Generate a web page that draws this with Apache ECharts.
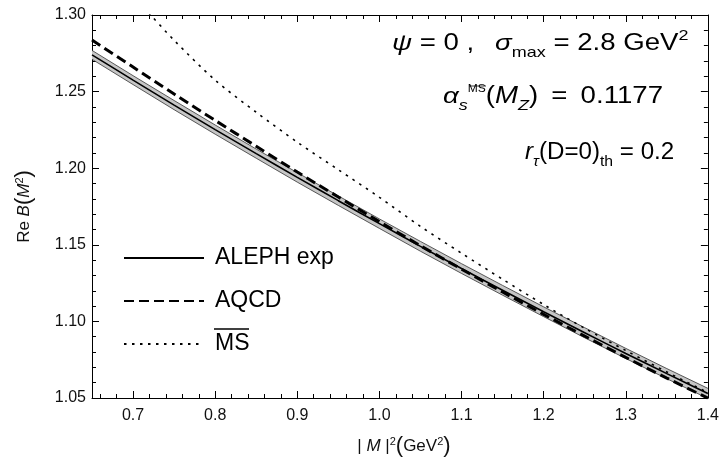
<!DOCTYPE html>
<html>
<head>
<meta charset="utf-8">
<script src="https://cdn.jsdelivr.net/npm/echarts@6/dist/echarts.min.js"></script>
<style>
  html, body { margin: 0; padding: 0; background: #fff; }
  #chart { width: 722px; height: 465px; }
</style>
</head>
<body>
<div id="chart"></div>
<script>
// values, x in GeV^2
const xs = [0.65, 0.70, 0.75, 0.80, 0.85, 0.90, 0.95, 1.00, 1.05, 1.10, 1.15, 1.20, 1.25, 1.30, 1.35, 1.40]
const alephExp = [1.2740, 1.2575, 1.2412, 1.2252, 1.2095, 1.1940, 1.1788, 1.1638, 1.1490, 1.1345, 1.1203, 1.1063, 1.0926, 1.0791, 1.0659, 1.0530]
const alephHigh = [1.2769, 1.2604, 1.2442, 1.2282, 1.2125, 1.1971, 1.1819, 1.1669, 1.1522, 1.1377, 1.1235, 1.1095, 1.0959, 1.0824, 1.0692, 1.0563]
const alephLow = [1.2711, 1.2546, 1.2382, 1.2222, 1.2065, 1.1909, 1.1757, 1.1607, 1.1458, 1.1313, 1.1171, 1.1031, 1.0893, 1.0758, 1.0626, 1.0497]
const aqcd = [1.2837, 1.2660, 1.2484, 1.2312, 1.2143, 1.1975, 1.1812, 1.1651, 1.1494, 1.1341, 1.1192, 1.1046, 1.0904, 1.0765, 1.0630, 1.0499]
const msX = [0.70, 0.72, 0.75, 0.80, 0.85, 0.90, 0.95, 1.00, 1.05, 1.10, 1.15, 1.20, 1.25, 1.30, 1.35, 1.40]
const msBar = [1.3132, 1.3009, 1.2835, 1.2575, 1.2365, 1.2170, 1.1990, 1.1810, 1.1620, 1.1445, 1.1275, 1.1110, 1.0955, 1.0810, 1.0670, 1.0535]

const legendNames = ['ALEPH exp', 'AQCD', 'MS']

const xMajor = [0.7, 0.8, 0.9, 1.0, 1.1, 1.2, 1.3, 1.4]
const xMinor = [0.66, 0.68, 0.72, 0.74, 0.76, 0.78, 0.82, 0.84, 0.86, 0.88, 0.92, 0.94, 0.96, 0.98,
  1.02, 1.04, 1.06, 1.08, 1.12, 1.14, 1.16, 1.18, 1.22, 1.24, 1.26, 1.28, 1.32, 1.34, 1.36, 1.38]
const yMajor = [1.05, 1.10, 1.15, 1.20, 1.25, 1.30]
const yMinor = [1.06, 1.07, 1.08, 1.09, 1.11, 1.12, 1.13, 1.14, 1.16, 1.17, 1.18, 1.19,
  1.21, 1.22, 1.23, 1.24, 1.26, 1.27, 1.28, 1.29]

const FONT = "'Liberation Sans', Arial, sans-serif"
const zip = (a, b) => a.map((v, i) => [v, b[i]])

function xAxisFor(pos, ticks, len, main) {
  return {
    type: 'value', position: pos, min: 0.65, max: 1.4,
    axisLine: { show: main, onZero: false, lineStyle: { color: '#000', width: 1 } },
    axisTick: { show: true, inside: true, length: len, customValues: ticks, lineStyle: { color: '#000', width: 1 } },
    axisLabel: { show: main && pos === 'bottom', customValues: ticks, margin: 10,
      color: '#111', fontSize: 16, fontFamily: FONT, formatter: v => v.toFixed(1) },
    splitLine: { show: false },
  }
}
function yAxisFor(pos, ticks, len, main) {
  return {
    type: 'value', position: pos, min: 1.05, max: 1.30,
    axisLine: { show: main, onZero: false, lineStyle: { color: '#000', width: 1 } },
    axisTick: { show: true, inside: true, length: len, customValues: ticks, lineStyle: { color: '#000', width: 1 } },
    axisLabel: { show: main && pos === 'left', customValues: ticks, margin: 6,
      color: '#111', fontSize: 16, fontFamily: FONT, formatter: v => v.toFixed(2) },
    splitLine: { show: false },
  }
}

const rich = {
  n: { fontSize: 23, lineHeight: 32, fontFamily: FONT, color: '#000' },
  i: { fontSize: 23, lineHeight: 32, fontFamily: FONT, fontStyle: 'italic', color: '#000' },
  sub: { fontSize: 15, lineHeight: 15, verticalAlign: 'bottom', fontFamily: FONT, color: '#000' },
  subi: { fontSize: 15, lineHeight: 15, verticalAlign: 'bottom', fontFamily: FONT, fontStyle: 'italic', color: '#000' },
  sup: { fontSize: 15, lineHeight: 15, verticalAlign: 'top', fontFamily: FONT, color: '#000' },
  tiny: { fontSize: 10, lineHeight: 10, verticalAlign: 'top', fontFamily: FONT, color: '#000', padding: [3, 0, 0, 0] },
}
const nameRich = {
  n: { fontSize: 17, lineHeight: 24, fontFamily: FONT, color: '#111' },
  i: { fontSize: 17, lineHeight: 24, fontFamily: FONT, fontStyle: 'italic', color: '#111' },
  p: { fontSize: 22, lineHeight: 24, fontFamily: FONT, color: '#111' },
  sup: { fontSize: 11, lineHeight: 11, verticalAlign: 'top', fontFamily: FONT, color: '#111', padding: [2, 0, 0, 0] },
}

const xAxes = [xAxisFor('bottom', xMajor, 7, true), xAxisFor('top', xMajor, 7, true),
  xAxisFor('bottom', xMinor, 4, false), xAxisFor('top', xMinor, 4, false)]
xAxes[0].name = '{n||}{i| M }{n||}{sup|2}{p|(}{n|GeV}{sup|2}{p|)}'
xAxes[0].nameLocation = 'middle'
xAxes[0].nameGap = 36
xAxes[0].nameTextStyle = { rich: nameRich, padding: [0, 0, 0, 8] }

const yAxes = [yAxisFor('left', yMajor, 7, true), yAxisFor('right', yMajor, 7, true),
  yAxisFor('left', yMinor, 4, false), yAxisFor('right', yMinor, 4, false)]
yAxes[0].name = '{n|Re }{i|B}{p|(}{i|M}{sup|2}{p|)}'
yAxes[0].nameLocation = 'middle'
yAxes[0].nameGap = 56
yAxes[0].nameTextStyle = { rich: nameRich }

const chart = echarts.init(document.getElementById('chart'), null, { renderer: 'canvas' })
chart.setOption({
  animation: false,
  backgroundColor: '#fff',
  grid: { left: 92, right: 8, top: 15, bottom: 67, containLabel: false },
  xAxis: xAxes,
  yAxis: yAxes,
  legend: {
    data: legendNames, orient: 'vertical', left: 118, top: 238,
    itemWidth: 80, itemHeight: 14, itemGap: 13,
    itemStyle: { opacity: 0, color: 'transparent', borderWidth: 0 },
    textStyle: { fontSize: 23, lineHeight: 30, color: '#000', fontFamily: FONT, padding: [0, 0, 0, 6] },
    selectedMode: false,
  },
  series: [
    {
      // grey error band of the ALEPH curve
      name: 'band', type: 'custom', silent: true, z: 1,
      data: xs.map((x, i) => [x, alephLow[i], alephHigh[i]]),
      encode: { x: 0, y: [1, 2] },
      renderItem(params, api) {
        if (params.dataIndex !== 0) return null
        const upper = xs.map((x, i) => api.coord([x, alephHigh[i]]))
        const lower = xs.map((x, i) => api.coord([x, alephLow[i]]))
        return {
          type: 'group',
          children: [
            { type: 'polygon', shape: { points: upper.concat(lower.slice().reverse()) }, style: { fill: '#c6c6c6' } },
            { type: 'polyline', shape: { points: upper }, style: { stroke: '#333', lineWidth: 0.8, fill: null } },
            { type: 'polyline', shape: { points: lower }, style: { stroke: '#333', lineWidth: 0.8, fill: null } },
          ],
        }
      },
    },
    {
      name: 'ALEPH exp', type: 'line', data: zip(xs, alephExp),
      symbol: 'none', smooth: 0.3, z: 3,
      lineStyle: { color: '#000', width: 1.6 },
    },
    {
      name: 'AQCD', type: 'line', data: zip(xs, aqcd),
      symbol: 'none', smooth: 0.3, z: 4,
      lineStyle: { color: '#000', width: 3, type: [10, 5] },
    },
    {
      name: 'MS', type: 'line', data: zip(msX, msBar),
      symbol: 'none', smooth: 0.3, z: 5,
      lineStyle: { color: '#000', width: 1.6, type: [2.5, 5.5] },
    },
  ],
  graphic: [
    { type: 'text', x: 392, y: 44, scaleX: 1.2,
      style: { rich, verticalAlign: 'middle', text: '{i|ψ}{n| = 0 , \u2009 }{i|σ}{sub|max}{n| = 2.8 GeV}{sup|2}' } },
    { type: 'text', x: 443, y: 97, scaleX: 1.2,
      style: { rich, verticalAlign: 'middle', text: '{i|α}{subi|s}{tiny|MS}{n|(}{i|M}{subi|Z}{n|) \u2009=\u2009 0.1177}' } },
    { type: 'text', x: 525, y: 153, scaleX: 1.05,
      style: { rich, verticalAlign: 'middle', text: '{i|r}{subi|τ}{n|(D=0)}{sub|th}{n| = 0.2}' } },
    // overlines for the MS-bar labels
    { type: 'line', shape: { x1: 214, y1: 329, x2: 249, y2: 329 }, style: { stroke: '#000', lineWidth: 1.5 } },
    { type: 'line', shape: { x1: 469, y1: 86, x2: 486, y2: 86 }, style: { stroke: '#000', lineWidth: 0.8 } },
  ],
})
</script>
</body>
</html>
